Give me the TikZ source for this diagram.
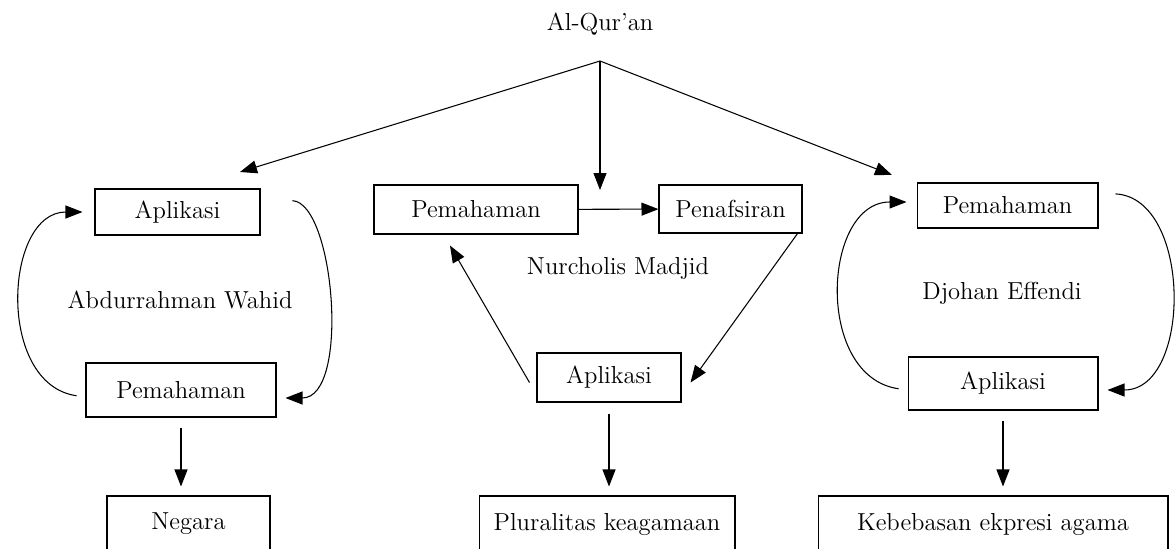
\documentclass[tikz,border=0pt]{standalone}
\usetikzlibrary{arrows.meta, positioning}
\definecolor{box-border}{HTML}{000000}
\definecolor{arrow}{HTML}{000000}
\tikzset{
  idea-box/.style={
    draw=box-border, line width=0.6pt, inner sep=0pt,
    minimum height=0.96cm, align=center, font=\fontsize{14}{17}\selectfont
  },
  idea-label/.style={inner sep=0pt, font=\fontsize{14}{17}\selectfont},
  idea-edge/.style={-{Triangle[length=0.34cm, width=0.26cm]}, line width=0.6pt, draw=arrow}
}

\begin{document}
\begin{tikzpicture}[x=0.02cm, y=-0.02cm]
  \useasboundingbox (0,0) rectangle (1176,548);

  \node[idea-label] (quran) at (600, 24) {Al-Qur'an};
  \coordinate (apex)   at (600, 61);
  \coordinate (to-aw)  at (240, 172);
  \coordinate (to-nm)  at (600, 190);
  \coordinate (to-de)  at (892, 175);

  % Abdurrahman Wahid
  \node[idea-box, minimum width=3.3cm, minimum height=0.92cm] (aw-apl) at (177.5, 212) {Aplikasi};
  \node[idea-box, minimum width=3.8cm, minimum height=1.08cm] (aw-pem) at (181, 390)   {Pemahaman};
  \node[idea-label] (aw-name) at (180, 300) {Abdurrahman Wahid};
  \node[idea-box, minimum width=3.26cm, minimum height=1.12cm] (negara) at (188.5, 524) {Negara};

  % Nurcholis Madjid
  \node[idea-box, minimum width=4.08cm, minimum height=0.98cm] (nm-pem) at (476, 209.5) {Pemahaman};
  \node[idea-box, minimum width=2.86cm, minimum height=0.96cm] (nm-taf) at (730.5, 209) {Penafsiran};
  \node[idea-box, minimum width=2.88cm, minimum height=0.98cm] (nm-apl) at (609, 377.5) {Aplikasi};
  \node[idea-label] (nm-name) at (618, 268) {Nurcholis Madjid};
  \node[idea-box, minimum width=5.12cm, minimum height=1.12cm] (plural) at (607, 524) {Pluralitas keagamaan};

  % Djohan Effendi
  \node[idea-box, minimum width=3.62cm, minimum height=0.9cm]  (de-pem) at (1007.5, 205.5) {Pemahaman};
  \node[idea-box, minimum width=3.8cm, minimum height=1.06cm]  (de-apl) at (1003, 383.5)   {Aplikasi};
  \node[idea-label] (de-name) at (1002, 293) {Djohan Effendi};
  \node[idea-box, minimum width=7cm, minimum height=1.12cm] (bebas) at (993, 524) {Kebebasan ekpresi agama};

  \draw[idea-edge] (apex) -- (to-aw);
  \draw[idea-edge] (apex) -- (to-nm);
  \draw[idea-edge] (apex) -- (to-de);

  \draw[idea-edge, shorten <=0.18cm, shorten >=0.24cm]
    ([yshift=-0.14cm]aw-pem.west) to[out=172, in=180, looseness=1.25] (aw-apl.west);
  \draw[idea-edge, shorten <=0.64cm, shorten >=0.18cm]
    ([yshift=0.26cm]aw-apl.east) to[out=-3, in=0, looseness=0.95] ([yshift=-0.16cm]aw-pem.east);

  \draw[idea-edge] (nm-pem) -- (nm-taf);
  \draw[idea-edge] ([xshift=-0.1cm]nm-taf.south east) -- ([shift={(0.18cm,-0.1cm)}]nm-apl.east);
  \draw[idea-edge] ([shift={(-0.14cm,-0.1cm)}]nm-apl.west) -- ([shift={(-0.52cm,-0.22cm)}]nm-pem.south);

  \draw[idea-edge, shorten <=0.18cm, shorten >=0.2cm]
    ([yshift=-0.13cm]de-apl.west) to[out=172, in=180, looseness=1.28] ([yshift=0.07cm]de-pem.west);
  \draw[idea-edge, shorten <=0.34cm, shorten >=0.18cm]
    ([yshift=0.25cm]de-pem.east) to[out=-3, in=0, looseness=1.22] ([yshift=-0.13cm]de-apl.east);

  \draw[idea-edge, shorten <=0.2cm, shorten >=0.18cm] (aw-pem.south) -- (aw-pem.south |- negara.north);
  \draw[idea-edge, shorten <=0.22cm, shorten >=0.18cm] (nm-apl.south) -- (nm-apl.south |- plural.north);
  \draw[idea-edge, shorten <=0.2cm, shorten >=0.18cm] (de-apl.south) -- (de-apl.south |- bebas.north);
\end{tikzpicture}
\end{document}
